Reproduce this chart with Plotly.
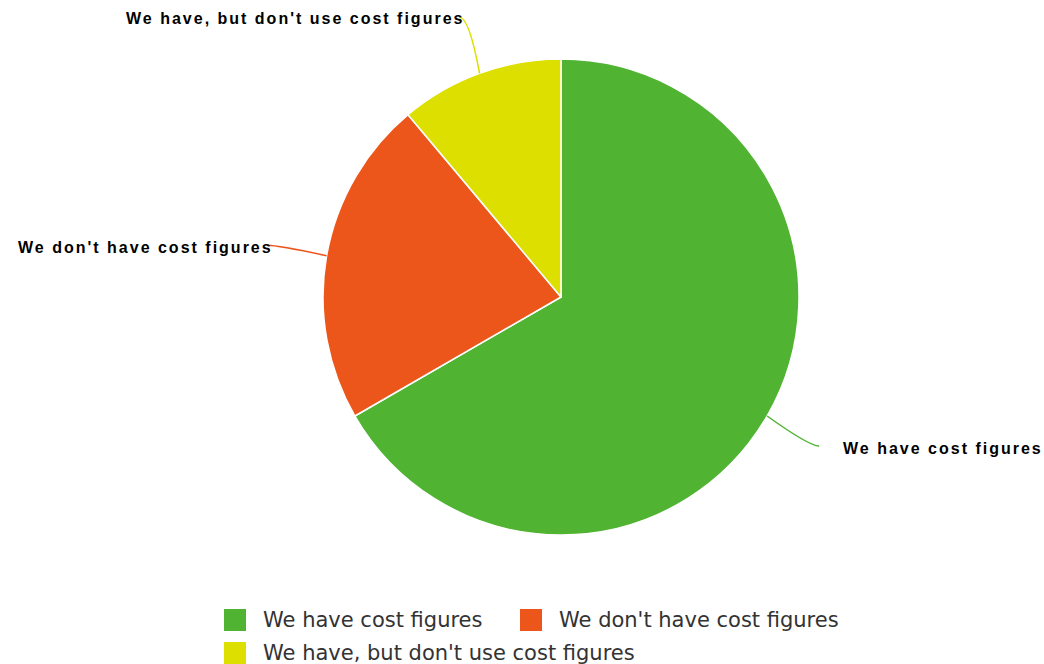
import math
import plotly.graph_objects as go

# Survey answers and their counts
labels = ["We have cost figures", "We don't have cost figures", "We have, but don't use cost figures"]
counts = [6, 2, 1]
colors = ["#50B432", "#ED561B", "#DDDF00"]

W, H = 1044, 664
CX, CY, R = 561, 297, 238          # pie centre and radius in pixels
CONNECTOR_LEN = 60                 # how far the label anchor sits outside the rim
LABEL_GAP = {"right": 22, "left": -7}
LABEL_FONT = dict(family="Liberation Sans, Arial, sans-serif", size=16, color="#000000")
LEGEND_FONT = dict(family="DejaVu Sans, Verdana, sans-serif", size=21, color="#333333")

fig = go.Figure()

fig.add_trace(go.Pie(
    labels=labels,
    values=counts,
    sort=False,
    direction="clockwise",
    rotation=0,
    marker=dict(colors=colors, line=dict(color="#ffffff", width=1.5)),
    textinfo="none",
    hoverinfo="label+value+percent",
    showlegend=False,
    domain=dict(x=[(CX - R) / W, (CX + R) / W], y=[1 - (CY + R) / H, 1 - (CY - R) / H]),
))

# Outside labels with soft connectors, placed at each slice's mid-angle
shapes = []
annotations = []
total = sum(counts)
start = 0.0
for lab, val, col in zip(labels, counts, colors):
    frac = val / total
    mid = (start + frac / 2) * 2 * math.pi     # clockwise from 12 o'clock
    start += frac
    dx, dy = math.sin(mid), -math.cos(mid)      # pixel direction (y down)
    x0, y0 = CX + R * dx, CY + R * dy
    x1, y1 = CX + (R + CONNECTOR_LEN) * dx, CY + (R + CONNECTOR_LEN) * dy
    side = "right" if dx >= 0 else "left"
    sgn = 1 if side == "right" else -1
    cx_, cy_ = x1 - sgn * 10, y1
    shapes.append(dict(
        type="path", xref="x", yref="y",
        path=f"M{x0:.1f},{y0:.1f} Q{cx_:.1f},{cy_:.1f} {x1:.1f},{y1:.1f}",
        line=dict(color=col, width=1.5),
    ))
    annotations.append(dict(
        xref="x", yref="y",
        x=x1 + sgn * LABEL_GAP[side], y=y1 + 2,
        xanchor="left" if side == "right" else "right", yanchor="middle",
        text=f"<b><span style='letter-spacing:2px'>{lab}</span></b>",
        showarrow=False, font=LABEL_FONT,
    ))

# Legend: two items per row under the pie
LEG_COLS = [224, 520]
LEG_ROWS = [620, 653]
SW = 22
for i, (lab, col) in enumerate(zip(labels, colors)):
    lx, ly = LEG_COLS[i % 2], LEG_ROWS[i // 2]
    shapes.append(dict(
        type="rect", xref="x", yref="y",
        x0=lx, x1=lx + SW, y0=ly - SW / 2, y1=ly + SW / 2,
        fillcolor=col, line=dict(width=0),
    ))
    annotations.append(dict(
        xref="x", yref="y", x=lx + SW + 15, y=ly,
        xanchor="left", yanchor="middle",
        text=lab, showarrow=False, font=LEGEND_FONT,
    ))

fig.update_layout(
    width=W, height=H,
    margin=dict(l=0, r=0, t=0, b=0),
    paper_bgcolor="#ffffff", plot_bgcolor="rgba(0,0,0,0)",
    xaxis=dict(range=[0, W], visible=False, fixedrange=True),
    yaxis=dict(range=[H, 0], visible=False, fixedrange=True),
    shapes=shapes,
    annotations=annotations,
    showlegend=False,
)

fig.write_html("out.html")
